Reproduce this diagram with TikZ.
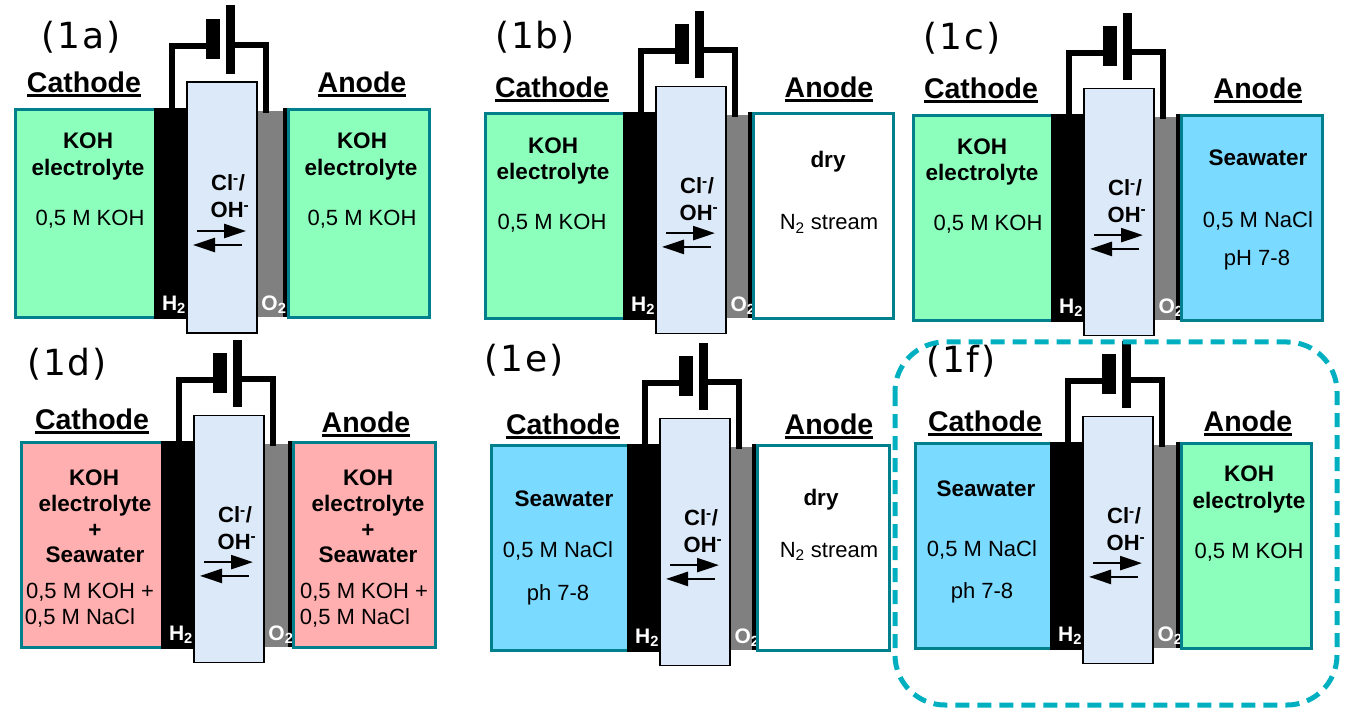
\documentclass[tikz,border=0pt]{standalone}
\usepackage{fontspec}
\setmainfont{Liberation Sans}
\newfontfamily\labfont[LetterSpace=5]{DejaVu Sans}
\usetikzlibrary{fit,arrows.meta}
\definecolor{teal}{HTML}{00808C}
\definecolor{koh}{HTML}{8CFFBC}
\definecolor{sea}{HTML}{7ADAFF}
\definecolor{mix}{HTML}{FFAFAF}
\definecolor{memb}{HTML}{DCE9F8}
\definecolor{dashc}{HTML}{00B0C0}
\definecolor{grayel}{HTML}{808080}
\newcounter{tn}
\tikzset{
  x=1pt,y=-1pt,
  solid box/.style={inner sep=0pt,outer sep=0pt},
  chamber/.style={solid box,draw=teal,line width=3pt},
  wire/.style={line width=6pt,line cap=butt,line join=miter},
  ionarrow/.style={line width=2.5pt,-{Triangle[length=22pt,width=14pt]}},
  txt/.style={inner sep=0pt,outer sep=0pt,text depth=0pt,anchor=center,align=center},
  gas/.style={txt,text height=15pt,text=white,font=\bfseries\fontsize{21}{21}\selectfont},
  ion/.style={txt,text height=16pt,font=\bfseries\fontsize{22}{22}\selectfont},
  bold text/.style={txt,text height=16pt,font=\bfseries\fontsize{22.5}{23}\selectfont},
  reg text/.style={txt,text height=16pt,font=\fontsize{22}{22}\selectfont},
  heading/.style={txt,text height=20.5pt,font=\bfseries\fontsize{28.5}{29}\selectfont},
  panel label/.style={txt,text height=26pt,font=\labfont\fontsize{36}{36}\selectfont},
}
\newcommand{\ulhead}[1]{\vtop{\hbox{#1}\kern1.8pt\hrule height 2.6pt}}
\newcommand{\rectnode}[6]{%
  \coordinate (#1p) at (#2,#3);\coordinate (#1q) at (#4,#5);
  \node[fit=(#1p)(#1q),solid box,#6] (#1) {};}
% id, dx, dy, yscale, left x, right box left, right box right, left fill, right fill
\newcommand{\cell}[9]{%
\begin{scope}[shift={(#2,#3)},yscale=#4]
  \rectnode{#1L}{#5}{110}{165}{318}{chamber,fill=#8}
  \rectnode{#1gray}{257}{111}{#6}{317}{fill=grayel}
  \pgfmathsetmacro{\lineL}{#6-5.5}\pgfmathsetmacro{\lineR}{#6-1}
  \rectnode{#1bar}{\lineL}{108}{\lineR}{317}{fill=black}
  \node[gas] (#1O) at (274,303) {O\textsubscript{2}};
  \rectnode{#1R}{#6}{110}{#7}{318}{chamber,fill=#9}
  \rectnode{#1cat}{154}{108}{190}{319.5}{fill=black}
  \node[gas] (#1H) at (174,303) {H\textsubscript{2}};
  \rectnode{#1mem}{187}{82}{257}{333}{draw=black,line width=1.3pt,fill=memb}
  \rectnode{#1short}{206}{19}{220}{59}{fill=black}
  \rectnode{#1long}{226}{5}{235}{74}{fill=black}
  \coordinate (#1wl) at (172,46);
  \coordinate (#1wr) at (266,45);
  \coordinate (#1wre) at (266,113);
  \draw[wire] (#1wl |- #1cat.north) -- (#1wl) -- (#1short.west |- #1wl);
  \draw[wire] (#1long.east |- #1wr) -- (#1wr) -- (#1wre);
  \node[ion] (#1cl) at (228,183) {Cl\textsuperscript{-}/};
  \node[ion] (#1oh) at (230,210) {OH\textsuperscript{-}};
  \coordinate (#1a) at (197,231);\coordinate (#1b) at (246,231);
  \coordinate (#1c) at (242,245);\coordinate (#1d) at (193,245);
  \draw[ionarrow] (#1a) -- (#1b);
  \draw[ionarrow] (#1c) -- (#1d);
\end{scope}}
\newcommand{\txt}[4]{\stepcounter{tn}\node[#1] (t\thetn) at (#2,#3) {#4};}
\newcommand{\hd}[3]{\txt{heading}{#1}{#2}{\ulhead{#3}}}
\newcommand{\bt}[3]{\txt{bold text}{#1}{#2}{#3}}
\newcommand{\rt}[3]{\txt{reg text}{#1}{#2}{#3}}
\newcommand{\pl}[3]{\txt{panel label}{#1}{#2}{#3}}
\begin{document}
\begin{tikzpicture}
\useasboundingbox (0,0) rectangle (1350,711);
\cell{a}{0}{0}{1}{15}{288}{429}{koh}{koh}
\cell{b}{469}{5.6}{.985}{16}{284}{424}{koh}{white}
\cell{c}{897}{7.6}{.985}{16}{284}{425}{koh}{sea}
\cell{d}{7}{334.6}{.985}{14}{286}{428}{mix}{mix}
\cell{e}{473}{337.6}{.985}{18}{284}{416}{sea}{white}
\cell{f}{896}{335.6}{.985}{19}{285}{415}{sea}{koh}
% 1a
\pl{81}{36}{(1a)}
\hd{84}{82}{Cathode}\hd{362}{82}{Anode}
\bt{88}{141}{KOH}\bt{88}{168}{electrolyte}\rt{90}{218}{0,5 M KOH}
\bt{362}{141}{KOH}\bt{361}{168}{electrolyte}\rt{362}{218}{0,5 M KOH}
% 1b
\pl{535}{36}{(1b)}
\hd{552}{87}{Cathode}\hd{829}{87}{Anode}
\bt{553}{146}{KOH}\bt{553}{172}{electrolyte}\rt{552}{222}{0,5 M KOH}
\bt{828}{160}{dry}\rt{829}{222}{N\textsubscript{2} stream}
% 1c
\pl{962}{37}{(1c)}
\hd{981}{88}{Cathode}\hd{1258}{88}{Anode}
\bt{982}{147}{KOH}\bt{982}{173}{electrolyte}\rt{988}{223}{0,5 M KOH}
\bt{1258}{158}{Seawater}\rt{1258}{220}{0,5 M NaCl}\rt{1257}{258}{pH 7-8}
% 1d
\pl{67}{363}{(1d)}
\hd{92}{419}{Cathode}\hd{366}{422}{Anode}
\bt{94}{477}{KOH}\bt{95}{503}{electrolyte}\bt{95}{529}{+}\bt{95}{554}{Seawater}
\rt{90}{590}{0,5 M KOH +}\rt{80}{616}{0,5 M NaCl}
\bt{368}{477}{KOH}\bt{368}{503}{electrolyte}\bt{368}{529}{+}\bt{368}{554}{Seawater}
\rt{364}{590}{0,5 M KOH +}\rt{355}{616}{0,5 M NaCl}
% 1e
\pl{524}{359}{(1e)}
\hd{563}{424}{Cathode}\hd{829}{424}{Anode}
\bt{564}{498}{Seawater}\rt{558}{549}{0,5 M NaCl}\rt{558}{592}{ph 7-8}
\bt{821}{497}{dry}\rt{829}{549}{N\textsubscript{2} stream}
% 1f
\pl{961}{360}{(1f)}
\hd{985}{421}{Cathode}\hd{1248}{421}{Anode}
\bt{986}{488}{Seawater}\rt{982}{548}{0,5 M NaCl}\rt{982}{590}{ph 7-8}
\bt{1249}{473}{KOH}\bt{1249}{500}{electrolyte}\rt{1249}{550}{0,5 M KOH}
\coordinate (hp) at (895,342);\coordinate (hq) at (1337,705);
\draw[dashc,line width=5pt,dash pattern=on 14pt off 8pt,rounded corners=50pt] (hp) rectangle (hq);
\end{tikzpicture}
\end{document}
